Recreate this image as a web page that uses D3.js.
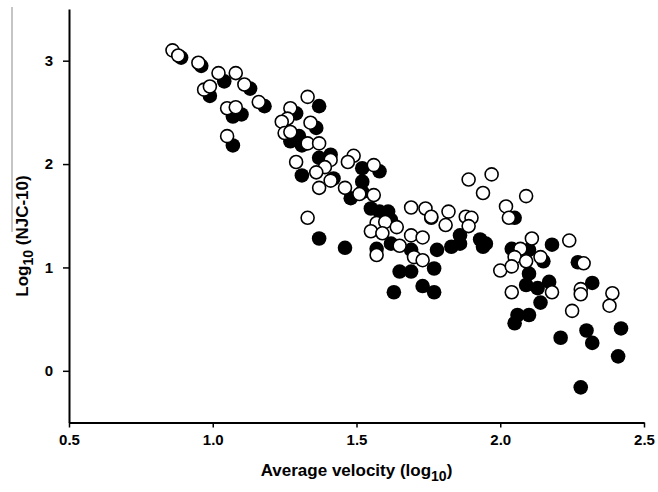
<!DOCTYPE html>
<html>
<head>
<meta charset="utf-8">
<script src="https://cdn.jsdelivr.net/npm/d3@7"></script>
<style>
  body { margin: 0; background: #fff; }
  text { font-family: "Liberation Sans", Arial, sans-serif; font-weight: bold; fill: #000; }
</style>
</head>
<body>
<div id="chart"></div>
<script>
// filled circles: average velocity (log10) / log10 (NJC-10)
var filledVel = [0.89, 0.96, 1.04, 1.13, 0.99, 1.18, 1.07, 1.10, 1.07, 1.37, 1.29, 1.36, 1.30, 1.27, 1.31, 1.37, 1.41, 1.31,
    1.52, 1.58, 1.42, 1.52, 1.48, 1.52, 1.55, 1.58, 1.61, 1.76, 1.62, 1.37, 1.46, 1.57, 1.62, 1.69, 1.78, 1.83, 1.86, 1.86,
    1.93, 1.95, 1.94, 1.65, 1.69, 1.77, 1.63, 1.73, 1.77, 2.05, 2.04, 2.10, 2.18, 2.15, 2.10, 2.09, 2.13, 2.17, 2.14, 2.27,
    2.32, 2.06, 2.10, 2.05, 2.21, 2.30, 2.32, 2.42, 2.41, 2.28];
var filledLog = [3.03, 2.95, 2.80, 2.73, 2.66, 2.56, 2.46, 2.48, 2.18, 2.56, 2.49, 2.35, 2.27, 2.22, 2.18, 2.06, 2.09, 1.89,
    1.96, 1.93, 1.86, 1.83, 1.67, 1.73, 1.57, 1.54, 1.54, 1.48, 1.46, 1.28, 1.19, 1.18, 1.23, 1.17, 1.17, 1.20, 1.23, 1.31,
    1.27, 1.23, 1.20, 0.96, 0.96, 0.99, 0.76, 0.82, 0.76, 1.48, 1.18, 1.17, 1.22, 1.06, 0.94, 0.83, 0.80, 0.86, 0.66, 1.05,
    0.85, 0.54, 0.54, 0.46, 0.32, 0.39, 0.27, 0.41, 0.14, -0.16];

// open circles
var openVel = [0.86, 0.88, 0.95, 1.02, 1.08, 1.11, 0.97, 0.99, 1.05, 1.08, 1.05, 1.16, 1.33, 1.27, 1.26, 1.24, 1.34, 1.25,
    1.27, 1.33, 1.37, 1.41, 1.39, 1.29, 1.36, 1.49, 1.47, 1.56, 1.41, 1.37, 1.46, 1.51, 1.56, 1.69, 1.74, 1.76, 1.57, 1.60,
    1.64, 1.55, 1.59, 1.69, 1.73, 1.33, 1.89, 1.97, 1.94, 2.09, 1.82, 1.81, 1.88, 1.90, 1.89, 2.02, 2.03, 1.65, 1.70, 1.73,
    1.57, 2.11, 2.07, 2.05, 2.09, 2.14, 2.24, 2.00, 2.04, 2.18, 2.04, 2.29, 2.28, 2.28, 2.39, 2.38, 2.25];
var openLog = [3.10, 3.05, 2.98, 2.88, 2.88, 2.77, 2.72, 2.75, 2.54, 2.55, 2.27, 2.60, 2.65, 2.54, 2.44, 2.41, 2.40, 2.30,
    2.31, 2.20, 2.20, 2.04, 1.97, 2.02, 1.92, 2.08, 2.02, 1.99, 1.84, 1.77, 1.77, 1.71, 1.70, 1.58, 1.57, 1.49, 1.43, 1.44,
    1.39, 1.35, 1.33, 1.31, 1.29, 1.48, 1.85, 1.90, 1.72, 1.69, 1.54, 1.41, 1.49, 1.48, 1.40, 1.59, 1.48, 1.21, 1.10, 1.07,
    1.12, 1.28, 1.18, 1.10, 1.06, 1.10, 1.26, 0.97, 1.01, 0.76, 0.76, 1.04, 0.79, 0.74, 0.75, 0.63, 0.58];

var xTicks = [0.5, 1.0, 1.5, 2.0, 2.5];
var yTicks = [0, 1, 2, 3];

var width = 658, height = 492;

var x = d3.scaleLinear().domain([0.5, 2.5]).range([69, 644]);
var y = d3.scaleLinear().domain([-0.5, 3.5]).range([422.5, 9]);

var svg = d3.select("#chart").append("svg")
    .attr("width", width)
    .attr("height", height);

// axes
var xAxis = svg.append("g")
    .attr("transform", "translate(0," + y(-0.5) + ")")
    .call(d3.axisBottom(x).tickValues(xTicks).tickFormat(d3.format(".1f"))
        .tickSize(5).tickSizeOuter(0).tickPadding(7));

var yAxis = svg.append("g")
    .attr("transform", "translate(" + x(0.5) + ",0)")
    .call(d3.axisLeft(y).tickValues(yTicks).tickFormat(d3.format("d"))
        .tickSize(6).tickSizeOuter(0).tickPadding(10));

[xAxis, yAxis].forEach(function (g) {
    g.select(".domain").attr("stroke", "#000").attr("stroke-width", 2);
    g.selectAll(".tick line").attr("stroke", "#000").attr("stroke-width", 1.5);
    g.selectAll(".tick text").style("font-size", "15px").attr("font-family", null);
});

// points: filled first, open on top
svg.append("g").selectAll("circle")
    .data(filledVel)
    .join("circle")
    .attr("cx", function (d) { return x(d); })
    .attr("cy", function (d, i) { return y(filledLog[i]); })
    .attr("r", 7.3)
    .attr("fill", "#000");

svg.append("g").selectAll("circle")
    .data(openVel)
    .join("circle")
    .attr("cx", function (d) { return x(d); })
    .attr("cy", function (d, i) { return y(openLog[i]); })
    .attr("r", 6.5)
    .attr("fill", "#fff")
    .attr("stroke", "#000")
    .attr("stroke-width", 1.6);

// x label
var xl = svg.append("text")
    .attr("x", (x(0.5) + x(2.5)) / 2)
    .attr("y", 476)
    .attr("text-anchor", "middle")
    .style("font-size", "17px");
xl.append("tspan").text("Average velocity (log");
xl.append("tspan").text("10").attr("dy", 5).style("font-size", "14px");
xl.append("tspan").text(")").attr("dy", -5);

// y label
var yl = svg.append("text")
    .attr("transform", "translate(28,236) rotate(-90)")
    .attr("text-anchor", "middle")
    .style("font-size", "17px");
yl.append("tspan").text("Log");
yl.append("tspan").text("10").attr("dy", 5).style("font-size", "14px");
yl.append("tspan").text(" (NJC-10)").attr("dy", -5);

// thin grey stroke left of the y label
svg.append("line")
    .attr("x1", 12).attr("x2", 12)
    .attr("y1", 7).attr("y2", 232)
    .attr("stroke", "#8c8c8c")
    .attr("stroke-width", 1);
</script>
</body>
</html>
